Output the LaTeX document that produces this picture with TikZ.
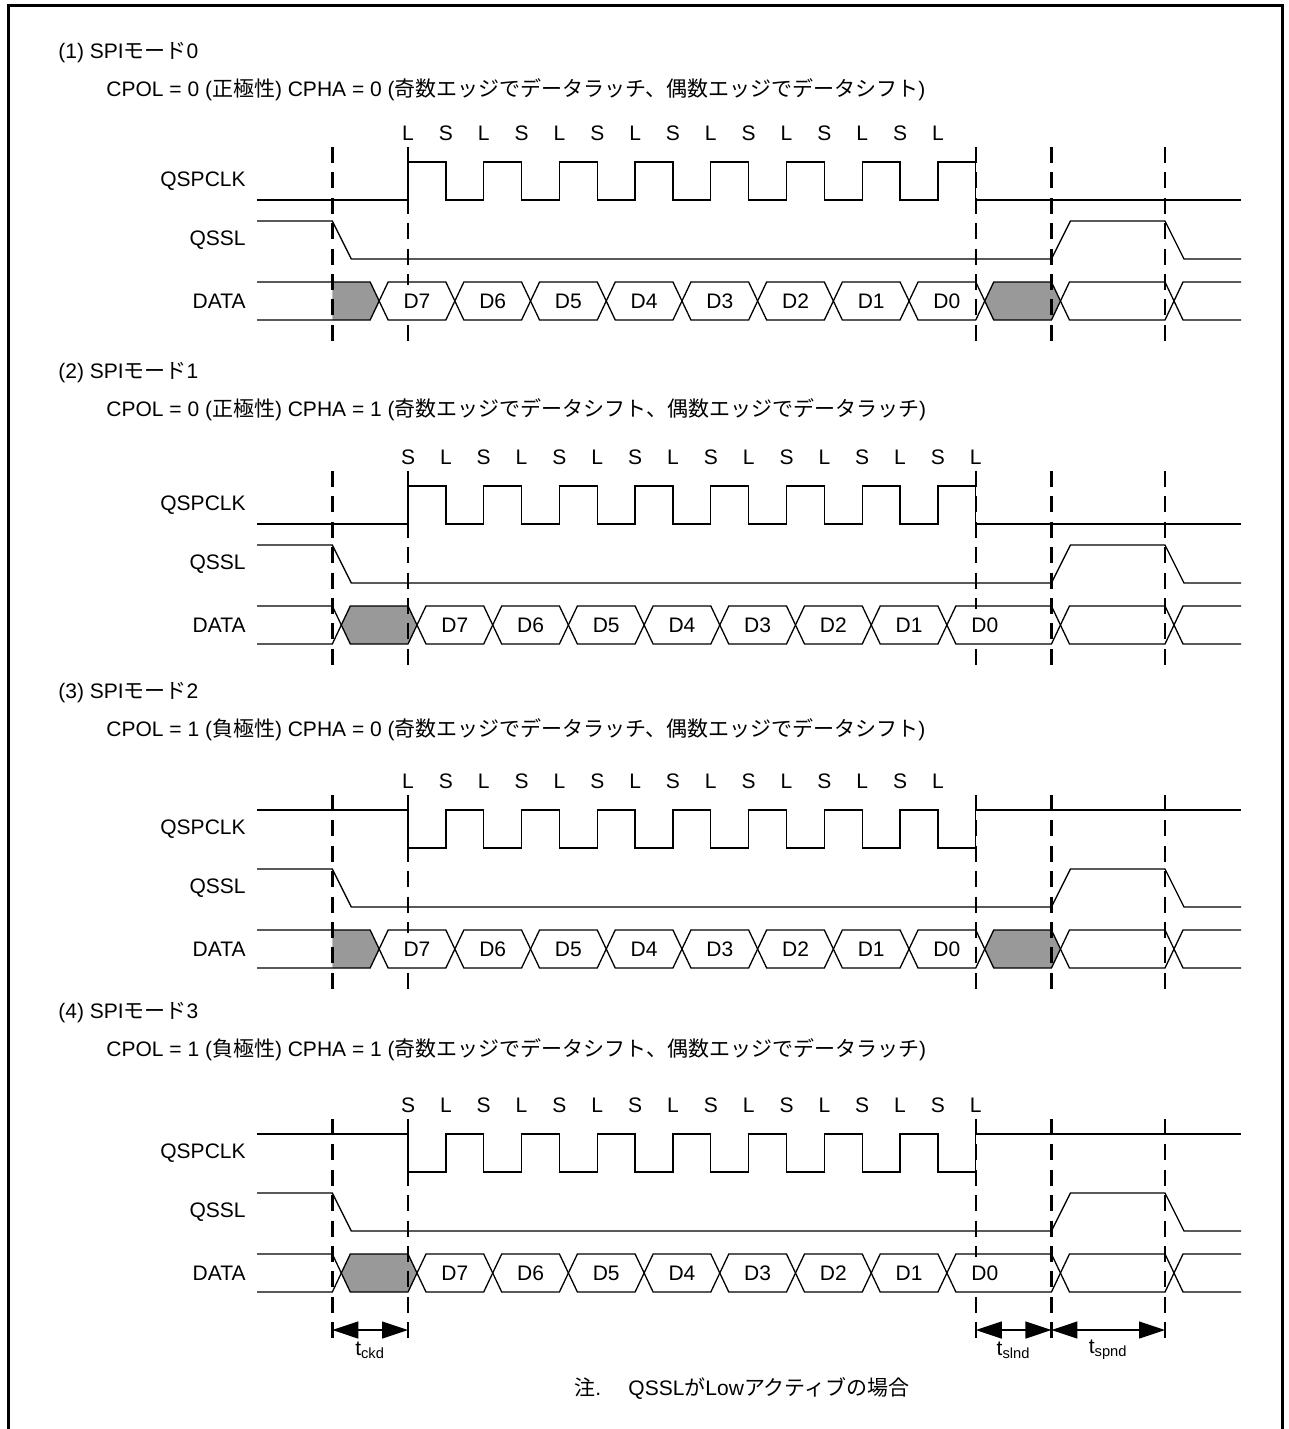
\documentclass[tikz,border=0pt]{standalone}
\usepackage{fontspec}
\setmainfont{Liberation Sans}
\newfontfamily\jp{Noto Sans CJK JP}
\usetikzlibrary{arrows.meta}
\definecolor{busgray}{RGB}{153,153,153}
% half clock period in px
\newcommand{\hp}{37.85}
% data cells: from edge / to edge / bit (-1 = none) / fill
\newcommand{\cellsA}{-1/1/7/white, 1/3/6/white, 3/5/5/white, 5/7/4/white, 7/9/3/white, 9/11/2/white, 11/13/1/white, 13/15/0/white, 15/17/-1/busgray, 17/20/-1/white}
\newcommand{\cellsB}{-2/0/-1/busgray, 0/2/7/white, 2/4/6/white, 4/6/5/white, 6/8/4/white, 8/10/3/white, 10/12/2/white, 12/14/1/white, 14/17/0/white, 17/20/-1/white}

\begin{document}
\begin{tikzpicture}[x=0.5pt, y=-0.5pt,
  wave/.style={line width=0.65pt},
  guide/.style={line width=1.2pt, dash pattern=on 8pt off 4.7pt},
  lbl/.style={font=\fontsize{10.5}{12}\selectfont, inner sep=0pt},
  sig/.style={lbl, anchor=east},
  dlbl/.style={lbl, fill=white, inner xsep=1.5pt, minimum height=16pt},
  dim/.style={line width=0.65pt, {Triangle[length=13pt, width=8.5pt]}-{Triangle[length=13pt, width=8.5pt]}},
  frame/.style={line width=1.5pt}]

\useasboundingbox (0,0) rectangle (1289,1429);
\draw[frame] (8,1429) -- (8,6) -- (1282,6) -- (1282,1429);

% === four SPI modes ===
\foreach \m/\pol/\pha/\sgn/\fa/\fb in {0/0/0/正/ラッチ/シフト, 1/0/1/正/シフト/ラッチ, 2/1/0/負/ラッチ/シフト, 3/1/1/負/シフト/ラッチ} {
\begin{scope}[shift={(0,\m*324)}]
\pgfmathtruncatemacro{\num}{\m+1}
\node[lbl, anchor=west] (ttl\m) at (58,{53-4*\m}) {(\num) SPI{\jp モード}\m};
\node[lbl, anchor=west] (cfg\m) at (106,{90-4*\m}) {CPOL = \pol{} ({\jp \sgn 極性}) CPHA = \pha{} ({\jp 奇数エッジでデータ\fa 、偶数エッジでデータ\fb})};

\node[sig] (nclk\m) at (246,181) {QSPCLK};
\node[sig] (nssl\m) at (246,240) {QSSL};
\node[sig] (ndat\m) at (246,301) {DATA};

% latch / shift marks
\pgfmathtruncatemacro{\nlast}{14+\pha}
\foreach \i in {0,...,\nlast} {
  \pgfmathtruncatemacro{\lsb}{mod(\i+\pha,2)}
  \node[lbl] (ls\m-\i) at ({408+\i*\hp},133) {\ifnum\lsb=0 L\else S\fi};
}

% clock
\pgfmathsetmacro{\ya}{\pol==0 ? 200 : 162}
\pgfmathsetmacro{\yb}{\pol==0 ? 162 : 200}
\draw[wave] (257,\ya) foreach \k in {0,...,7} { -- ({408+2*\k*\hp},\ya) -- ({408+2*\k*\hp},\yb) -- ({408+(2*\k+1)*\hp},\yb) -- ({408+(2*\k+1)*\hp},\ya) } -- (1241,\ya);

% slave select
\draw[wave] (257,221) -- ({408-2*\hp},221) -- ++(19,38) -- ({408+17*\hp},259) -- ++(19,-38) -- ({408+20*\hp},221) -- ++(19,38) -- (1241,259);

% data bus
\ifnum\pha=0 \let\cells\cellsA \else \let\cells\cellsB \fi
\pgfmathsetmacro{\cz}{408+(\pha==0 ? -1 : -2)*\hp}
\ifnum\pha=0
  \fill[busgray] ({408-2*\hp},282) -- (\cz,282) -- ({\cz+9},301) -- (\cz,320) -- ({408-2*\hp},320) -- cycle;
\fi
\draw[wave] (257,282) -- (\cz,282) -- ({\cz+9},301) -- (\cz,320) -- (257,320);
\foreach \a/\b/\bit/\fc in \cells
  \filldraw[wave, fill=\fc] ({408+\a*\hp+9},301) -- ({408+\a*\hp+18},282) -- ({408+\b*\hp},282) -- ({408+\b*\hp+9},301) -- ({408+\b*\hp},320) -- ({408+\a*\hp+18},320) -- cycle;
\draw[wave] (1241,282) -- ({408+20*\hp+18},282) -- ({408+20*\hp+9},301) -- ({408+20*\hp+18},320) -- (1241,320);

% timing guides
\pgfmathsetmacro{\yend}{\m==3 ? 368 : 341}
\foreach \g in {-2,0,15,17,20}
  \draw[guide] ({408+\g*\hp},147) -- ({408+\g*\hp},\yend);

% data names on top of the guides
\foreach \a/\b/\bit/\fc in \cells {
  \ifnum\bit>-1
    \node[dlbl] (dat\m-\bit) at ({408+(\a+1)*\hp+9},301) {D\bit};
  \fi
}
\end{scope}
}

% === timing parameters ===
\foreach \g/\nm in {-2/gA, 0/gB, 15/gC, 17/gD, 20/gE}
  \coordinate (\nm) at ({408+\g*\hp},1330);
\draw[dim] (gA) -- (gB);
\draw[dim] (gC) -- (gD);
\draw[dim] (gD) -- (gE);
\node[lbl] (tckd) at ({408-\hp},1350) {t\textsubscript{ckd}};
\node[lbl] (tslnd) at ({408+16*\hp},1350) {t\textsubscript{slnd}};
\node[lbl] (tspnd) at ({408+18.5*\hp},1350) {t\textsubscript{spnd}};

\node[lbl] (note) at (742,1388) {{\jp 注}.\hspace{1.3em}QSSL{\jp が}Low{\jp アクティブの場合}};

\end{tikzpicture}
\end{document}
